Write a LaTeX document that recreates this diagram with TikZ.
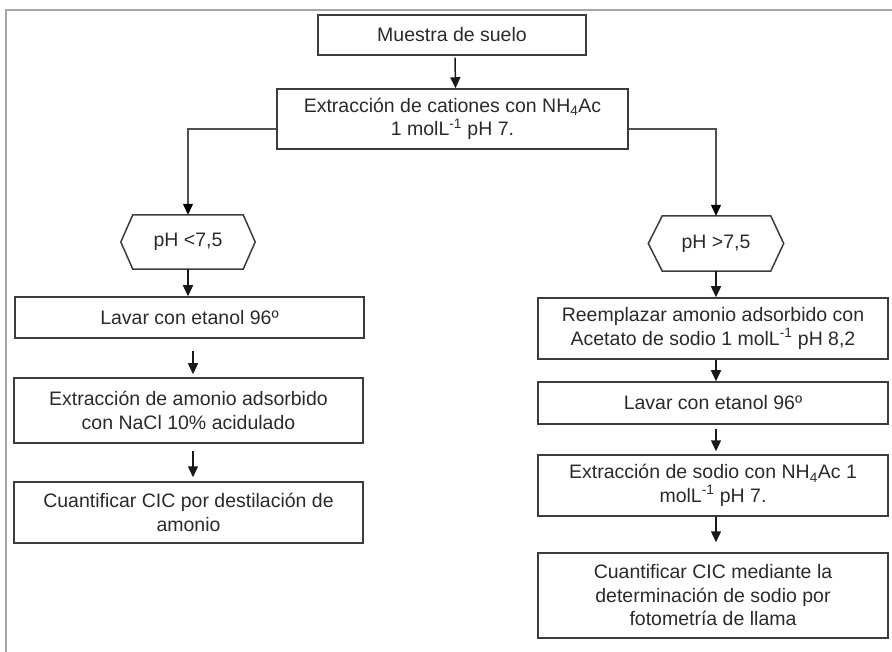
\documentclass[tikz,border=0pt]{standalone}
\usepackage{fontspec}
\setmainfont{Liberation Sans}
\usetikzlibrary{arrows.meta,calc}
\definecolor{txt}{HTML}{2A2A2A}
\definecolor{edge}{HTML}{3C3C3C}
\definecolor{frame}{HTML}{A6A6A6}
\begin{document}
\begin{tikzpicture}[x=1pt,y=-1pt,
  box/.style={draw=edge,line width=1.5pt,rectangle,inner sep=0pt,align=center,
    text=txt,font=\fontsize{19.5}{23.5}\selectfont},
  hexa/.style={draw=none,rectangle,inner sep=0pt,align=center,
    text=txt,font=\fontsize{19.5}{23.5}\selectfont},
  flow/.style={draw=black!90,line width=1.5pt,-{Triangle[length=11pt,width=10pt]}},
  branch/.style={draw=edge!90,line width=1.2pt,-{Triangle[length=11pt,width=10pt,color=black]}}]
\useasboundingbox (0,0) rectangle (892,652);
% frame
\draw[frame,line width=2pt] (5.5,652) -- (5.5,10) -- (892,10);
% nodes
\node[box,minimum width=268,minimum height=40] (mu) at (452,35) {Muestra de suelo};
\node[box,minimum width=351,minimum height=60] (ex) at (452.5,119)
  {Extracción de cationes con NH\textsubscript{4}Ac\\1 molL\textsuperscript{-1} pH 7.};
\node[hexa,minimum width=134,minimum height=54] (hl) at (188,242) {pH <7,5};
\node[hexa,minimum width=135,minimum height=55] (hr) at (716,243.5) {pH >7,5};
\draw[edge,line width=1.5pt] (hl.west) -- ([xshift=12pt]hl.north west) -- ([xshift=-12pt]hl.north east)
  -- (hl.east) -- ([xshift=-12pt]hl.south east) -- ([xshift=12pt]hl.south west) -- cycle;
\draw[edge,line width=1.5pt] (hr.west) -- ([xshift=14pt]hr.north west) -- ([xshift=-13pt]hr.north east)
  -- (hr.east) -- ([xshift=-13pt]hr.south east) -- ([xshift=14pt]hr.south west) -- cycle;
\node[box,minimum width=349,minimum height=41] (lavl) at (189.5,317.5) {Lavar con etanol 96º};
\node[box,minimum width=349,minimum height=65] (aml) at (188.5,410.5)
  {Extracción de amonio adsorbido\\con NaCl 10\% acidulado};
\node[box,minimum width=349,minimum height=61] (cul) at (188.5,512.5)
  {Cuantificar CIC por destilación de\\amonio};
\node[box,minimum width=350,minimum height=61] (rer) at (713,328.5)
  {Reemplazar amonio adsorbido con\\Acetato de sodio 1 molL\textsuperscript{-1} pH 8,2};
\node[box,minimum width=350,minimum height=42] (lavr) at (713,403) {Lavar con etanol 96º};
\node[box,minimum width=350,minimum height=61] (sor) at (713,485.5)
  {Extracción de sodio con NH\textsubscript{4}Ac 1\\molL\textsuperscript{-1} pH 7.};
\node[box,minimum width=350,minimum height=85] (cur) at (713,595.5)
  {Cuantificar CIC mediante la\\determinación de sodio por\\fotometría de llama};
% connectors
\draw[flow,shorten <=2pt] ([xshift=3pt]mu.south) -- ([xshift=3pt]ex.north);
\draw[branch] ([yshift=-10pt]ex.west) -| (hl.north);
\draw[branch] ([yshift=-10pt]ex.east) -| (hr.north);
\draw[flow] (hl.south) -- (hl.south |- lavl.north);
\draw[flow,shorten <=12pt,shorten >=3pt] ([xshift=3.5pt]lavl.south) -- ([xshift=4.5pt]aml.north);
\draw[flow,shorten <=7pt,shorten >=4pt] ([xshift=4.5pt]aml.south) -- ([xshift=4.5pt]cul.north);
\draw[flow] (hr.south) -- (hr.south |- rer.north);
\draw[flow] ([xshift=3pt]rer.south) -- ([xshift=3pt]lavr.north);
\draw[flow,shorten <=4pt,shorten >=3pt] ([xshift=3pt]lavr.south) -- ([xshift=3pt]sor.north);
\draw[flow,shorten >=10pt] ([xshift=3pt]sor.south) -- ([xshift=3pt]cur.north);
\end{tikzpicture}
\end{document}
